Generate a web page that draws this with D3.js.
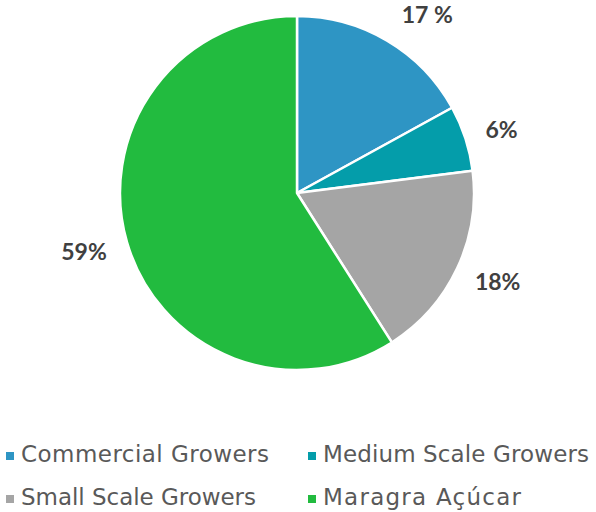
<!DOCTYPE html>
<html>
<head>
<meta charset="utf-8">
<script src="https://cdn.jsdelivr.net/npm/d3@7"></script>
<style>
  html, body { margin: 0; padding: 0; background: #fff; }
  svg { display: block; }
</style>
</head>
<body>
<svg id="chart" width="596" height="512"></svg>
<script>
// Share of cane supply by grower group
const categories = ["Commercial Growers", "Medium Scale Growers", "Small Scale Growers", "Maragra Açúcar"];
const shares = [17, 6, 18, 59];
const shareLabels = ["17 %", "6%", "18%", "59%"];
const colors = ["#2E95C4", "#049DAA", "#A5A5A5", "#22BB3F"];

const svg = d3.select("#chart");
const cx = 297, cy = 193, radius = 177;
const labelGap = 22;               // distance from rim to the label box
const labelNudgeX = [16, 0, 0, 0]; // the first label sits a little further right

const pie = d3.pie().sort(null).value(d => d)(shares);
const arc = d3.arc().innerRadius(0).outerRadius(radius);

const g = svg.append("g").attr("transform", `translate(${cx},${cy})`);

g.selectAll("path.slice")
  .data(pie)
  .join("path")
  .attr("class", "slice")
  .attr("d", arc)
  .attr("fill", (d, i) => colors[i])
  .attr("stroke", "#fff")
  .attr("stroke-width", 2.5)
  .attr("stroke-linejoin", "round");

// Value labels placed outside the rim, boxes pushed outward along the mid-angle
const labels = g.selectAll("text.value")
  .data(pie)
  .join("text")
  .attr("class", "value")
  .attr("text-anchor", "middle")
  .attr("dominant-baseline", "central")
  .attr("font-family", "Lato, sans-serif")
  .attr("font-weight", "bold")
  .attr("font-size", 23)
  .attr("fill", "#404040")
  .text((d, i) => shareLabels[i]);

labels.each(function (d, i) {
  const a = (d.startAngle + d.endAngle) / 2;
  const sx = Math.sin(a), sy = -Math.cos(a);
  const w = this.getComputedTextLength(), h = 17;
  const rr = radius + labelGap;
  const x = rr * sx + sx * w / 2 + labelNudgeX[i];
  const y = rr * sy + sy * h / 2;
  d3.select(this).attr("x", x).attr("y", y);
});

// Legend: two columns, two rows
const legendCols = [6, 308];
const legendRows = [462, 505];
const legendWidths = [248, 266, 235, 198];
const legend = svg.append("g");
categories.forEach((name, i) => {
  const x = legendCols[i % 2], y = legendRows[Math.floor(i / 2)];
  legend.append("rect")
    .attr("x", x).attr("y", y - 10)
    .attr("width", 8).attr("height", 8)
    .attr("fill", colors[i]);
  legend.append("text")
    .attr("x", x + 15).attr("y", y)
    .attr("font-family", "'DejaVu Sans', sans-serif")
    .attr("font-size", 23)
    .attr("fill", "#595959")
    .attr("textLength", legendWidths[i])
    .attr("lengthAdjust", "spacing")
    .text(name);
});
</script>
</body>
</html>
